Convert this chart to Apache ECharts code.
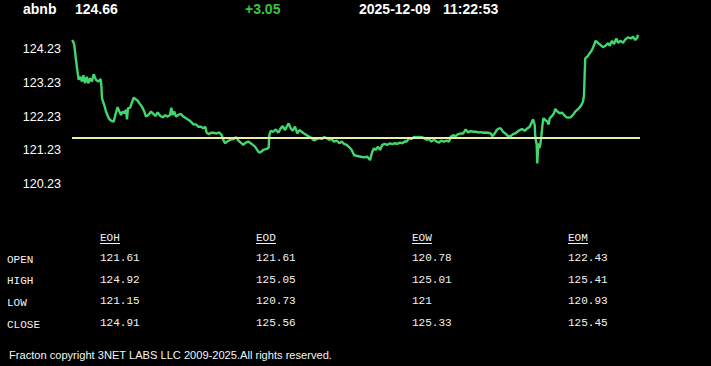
<!DOCTYPE html>
<html>
<head>
<meta charset="utf-8">
<script src="https://cdn.jsdelivr.net/npm/echarts@6/dist/echarts.min.js"></script>
<style>
html,body{margin:0;padding:0;background:#000;}
#chart{width:711px;height:366px;}
</style>
</head>
<body>
<div id="chart"></div>
<script>
// ---- header ----
const ticker = 'abnb';
const lastPrice = '124.66';
const change = '+3.05';
const quoteDate = '2025-12-09';
const quoteTime = '11:22:53';

// ---- axis ----
const yTickLabels = [120.23, 121.23, 122.23, 123.23, 124.23];
const openLevel = 121.61;

// ---- intraday series (time index, price) ----
const minutes = [0,1.3,2.3,4,5.7,6.7,8,10,11.3,13,14.7,16.3,18,20,21.7,24,26.3,28.7,29.3,30,32.3,34,36.7,39,41.7,43.3,45.7,47.3,49,50.7,52.3,54,55,56,58,59.7,61.7,64,65.7,68,70,72.3,74,76.3,79,81.3,83.3,85.7,88.3,90.7,93.3,95.7,98,99.3,100.7,102.3,104,106.3,109,111.3,114,116.7,119,121.3,124,126.3,129,131.3,133.3,134.7,136.7,139,141.3,144.7,147.3,149.7,151.3,153,155.3,158,161.3,164,166.3,168.7,171.3,173.7,176.3,179.7,183,186.3,188,191.3,194.7,196.7,197.3,198.7,201.3,203.7,206.3,208.7,210.7,213,214.7,216.7,218.7,220.7,223,225.3,227.3,229.7,232,234.7,237.3,239.7,242,244.7,247.3,249.7,252,254.7,257.3,259.7,262,264.7,267.3,269.7,272,274.7,277.3,279.7,282,285.3,288.7,292,295.3,298,300.3,302,303.7,306,308,310.3,312.7,315.3,318,320.3,322.7,325.3,328,330.3,332.7,334.7,337,339.3,342,344.7,347,349.7,352,354.7,357,359.3,362,364.7,367,369.3,372,374.7,377,378.7,381.3,383.7,386,388.7,391.3,393.7,396,398.7,401.3,403.7,406,408.7,411.3,413.7,416,418.7,420.3,422.7,424.7,427,428.7,431,433.3,436,438.7,441,443.3,445.3,447.7,450,452.7,455.3,457.7,459.3,461,462.7,463.3,464.7,465.3,466.3,467.3,468.3,469.3,470.3,471.3,473.3,475.3,476.7,477.7,480,482,483.3,485.3,487.7,490,492,494.3,496.7,498.7,501,503.3,506,508.7,511,512,512.7,513.3,515.3,517.7,520,522,523.7,526,528.7,531,533.3,536,537.7,540,542,544.3,546,548.7,551,553.3,556,558.7,561,563.3,565.3,566];
const prices = [124.50,124.45,124.35,123.91,123.52,123.32,123.41,123.27,123.46,123.22,123.41,123.22,123.37,123.27,123.49,123.32,123.27,123.34,123.17,122.77,122.57,122.38,122.18,122.11,122.08,122.28,122.51,122.38,122.28,122.38,122.33,122.43,122.15,122.48,122.49,122.63,122.79,122.74,122.70,122.60,122.52,122.38,122.23,122.28,122.38,122.31,122.25,122.35,122.25,122.21,122.27,122.23,122.28,122.49,122.28,122.38,122.23,122.28,122.31,122.23,122.18,122.13,122.08,122.00,122.00,121.93,121.93,121.88,121.93,121.75,121.71,121.75,121.75,121.73,121.76,121.68,121.54,121.44,121.49,121.54,121.56,121.62,121.52,121.46,121.39,121.46,121.49,121.42,121.34,121.19,121.16,121.24,121.27,121.31,121.68,121.81,121.78,121.85,121.75,121.88,121.95,121.83,121.93,122.03,121.88,121.81,121.93,121.73,121.83,121.78,121.73,121.68,121.63,121.59,121.52,121.56,121.59,121.56,121.62,121.59,121.54,121.56,121.49,121.52,121.44,121.49,121.42,121.39,121.32,121.24,121.09,121.06,121.04,121.02,121.04,120.94,121.19,121.29,121.24,121.34,121.24,121.39,121.42,121.39,121.44,121.41,121.44,121.42,121.46,121.44,121.49,121.49,121.59,121.56,121.63,121.62,121.63,121.62,121.59,121.54,121.56,121.49,121.54,121.49,121.46,121.52,121.49,121.52,121.49,121.63,121.68,121.65,121.71,121.73,121.73,121.85,121.76,121.80,121.78,121.78,121.76,121.77,121.75,121.76,121.75,121.73,121.65,121.73,121.83,121.88,121.88,121.78,121.73,121.65,121.65,121.71,121.73,121.78,121.83,121.86,121.81,121.88,121.93,122.03,122.15,121.98,121.63,121.39,120.84,121.44,121.29,121.39,121.63,121.93,122.18,122.13,122.08,122.00,122.18,122.25,122.33,122.46,122.38,122.33,122.35,122.28,122.21,122.20,122.21,122.28,122.38,122.45,122.54,122.67,122.87,123.52,123.96,124.01,124.11,124.21,124.35,124.48,124.42,124.35,124.29,124.33,124.41,124.33,124.48,124.38,124.55,124.42,124.48,124.42,124.52,124.58,124.55,124.60,124.50,124.58,124.66];

// ---- OHLC table ----
const tableColumns = ['EOH', 'EOD', 'EOW', 'EOM'];
const rowLabels = ['OPEN', 'HIGH', 'LOW', 'CLOSE'];
const eohValues = ['121.61', '124.92', '121.15', '124.91'];
const eodValues = ['121.61', '125.05', '120.73', '125.56'];
const eowValues = ['120.78', '125.01', '121', '125.33'];
const eomValues = ['122.43', '125.41', '120.93', '125.45'];

const footer = 'Fracton copyright 3NET LABS LLC 2009-2025.All rights reserved.';

// ---- build ----
const chart = echarts.init(document.getElementById('chart'), null, {renderer: 'svg'});
const sans = 'Arial, "Liberation Sans", sans-serif';
const mono = '"Liberation Mono", "DejaVu Sans Mono", monospace';
const white = '#f4f4f4';

const graphics = [];
function headText(text, x, color) {
  graphics.push({type: 'text', x: x, y: 9, style: {text: text, fill: color, font: 'bold 14px ' + sans, textVerticalAlign: 'middle'}});
}
headText(ticker, 23, '#ffffff');
headText(lastPrice, 75, '#ffffff');
headText(change, 245, '#3cc43c');
headText(quoteDate, 359, '#ffffff');
headText(quoteTime, 443, '#ffffff');

const colX = [100, 256, 412, 568];
const rowY = [259, 280.5, 302, 324];
const colValues = [eohValues, eodValues, eowValues, eomValues];
tableColumns.forEach((c, i) => {
  graphics.push({type: 'text', x: colX[i], y: 238, style: {text: c, fill: white, font: '11px ' + mono, textVerticalAlign: 'middle'}});
  graphics.push({type: 'line', shape: {x1: colX[i], y1: 243.5, x2: colX[i] + 20, y2: 243.5}, style: {stroke: white, lineWidth: 1}});
  colValues[i].forEach((v, r) => {
    graphics.push({type: 'text', x: colX[i], y: rowY[r] - 0.8, style: {text: v, fill: white, font: '11px ' + mono, textVerticalAlign: 'middle'}});
  });
});
rowLabels.forEach((l, r) => {
  graphics.push({type: 'text', x: 7, y: rowY[r] + 0.8, style: {text: l, fill: white, font: '11px ' + mono, textVerticalAlign: 'middle'}});
});
graphics.push({type: 'text', x: 9, y: 355, style: {text: footer, fill: white, font: '11.1px ' + sans, textVerticalAlign: 'middle'}});

chart.setOption({
  backgroundColor: '#000000',
  animation: false,
  grid: {left: 72, right: 71, top: 30, bottom: 182},
  xAxis: {type: 'value', min: 0, max: 568, show: false},
  yAxis: {
    type: 'value', min: 120.23, max: 124.80,
    axisLine: {show: false}, axisTick: {show: false}, splitLine: {show: false},
    axisLabel: {customValues: yTickLabels, color: '#ffffff', fontSize: 12.5, fontFamily: sans, margin: 11,
      formatter: v => v.toFixed(2)}
  },
  series: [{
    type: 'line',
    data: minutes.map((m, i) => [m, prices[i]]),
    showSymbol: false,
    lineStyle: {color: '#41d66e', width: 2.4},
    markLine: {
      symbol: ['none', 'none'], silent: true, label: {show: false},
      lineStyle: {color: '#e8f0a4', width: 2, type: 'solid'},
      data: [{yAxis: openLevel}]
    },
    z: 3
  }],
  graphic: graphics
});
</script>
</body>
</html>
